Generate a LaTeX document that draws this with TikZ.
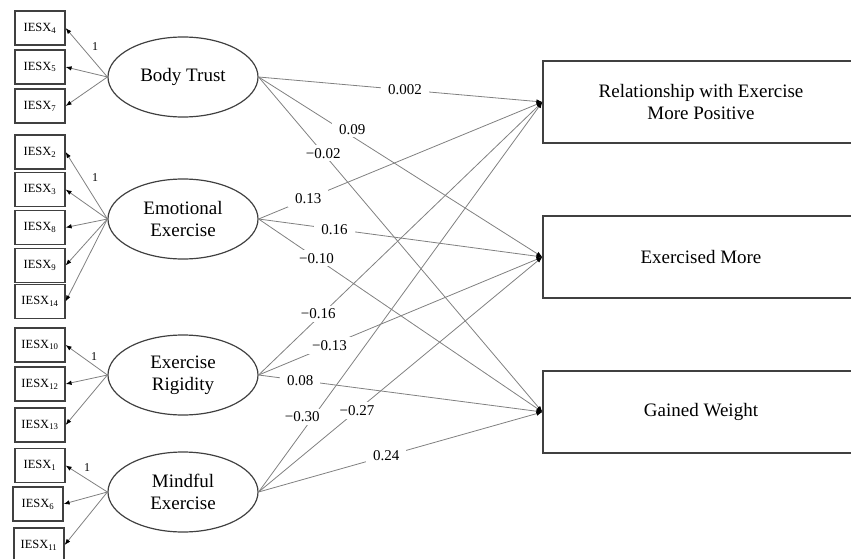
\documentclass[tikz,border=0pt]{standalone}
\usepackage{fontspec}
\setmainfont{Liberation Serif}
\usetikzlibrary{shapes.geometric,arrows.meta}
\tikzset{
  item/.style={draw=black!75,line width=1.2pt,minimum width=50pt,minimum height=34pt,inner sep=0pt,font=\fontsize{12.5}{14}\selectfont},
  factor/.style={ellipse,draw=black!75,line width=1.2pt,minimum width=150pt,minimum height=80pt,inner sep=0pt,align=center,font=\fontsize{19}{22}\selectfont},
  outcome/.style={draw=black!75,line width=1.2pt,minimum width=316pt,minimum height=82pt,inner sep=0pt,align=center,font=\fontsize{19}{22}\selectfont},
  load/.style={draw=black!50,line width=0.8pt,-{Latex[length=6pt,width=4.5pt,color=black]}},
  link/.style={draw=black!50,line width=0.8pt,-{Latex[length=6pt,width=4.5pt,color=black]}},
  coef/.style={fill=white,inner xsep=7pt,inner ysep=3pt,font=\fontsize{15}{15}\selectfont},
  one/.style={font=\fontsize{12}{12}\selectfont}
}
\newcommand{\iesx}[1]{IESX\textsubscript{#1}}
\begin{document}
\begin{tikzpicture}[x=1pt,y=-1pt]
  \useasboundingbox (0,0) rectangle (851,559);
  \clip (0,0) rectangle (851,559);
  \node[item] (i4) at (40,28) {\iesx{4}};
  \node[item] (i5) at (40,67) {\iesx{5}};
  \node[item] (i7) at (40,106) {\iesx{7}};
  \node[item] (i2) at (40,152) {\iesx{2}};
  \node[item] (i3) at (40,189.5) {\iesx{3}};
  \node[item] (i8) at (40,227.5) {\iesx{8}};
  \node[item] (i9) at (40,265.5) {\iesx{9}};
  \node[item] (i14) at (40,301.5) {\iesx{14}};
  \node[item] (i10) at (40,345) {\iesx{10}};
  \node[item] (i12) at (40,384) {\iesx{12}};
  \node[item] (i13) at (40,425) {\iesx{13}};
  \node[item] (i1) at (40,465.5) {\iesx{1}};
  \node[item] (i6) at (38,504) {\iesx{6}};
  \node[item] (i11) at (39,545) {\iesx{11}};

  \node[factor] (bt) at (183,77) {Body Trust};
  \node[factor] (ee) at (183,219) {Emotional\\Exercise};
  \node[factor] (er) at (183,375) {Exercise\\Rigidity};
  \node[factor] (me) at (183,492) {Mindful\\Exercise};

  \node[outcome] (rel) at (701,102) {Relationship with Exercise\\More Positive};
  \node[outcome] (exm) at (701,257) {Exercised More};
  \node[outcome] (gw) at (701,412) {Gained Weight};

  \begin{scope}[load]
    \draw (bt.west) to (i4.east);
    \draw (bt.west) to (i5.east);
    \draw (bt.west) to (i7.east);
    \draw (ee.west) to (i2.east);
    \draw (ee.west) to (i3.east);
    \draw (ee.west) to (i8.east);
    \draw (ee.west) to (i9.east);
    \draw (ee.west) to (i14.east);
    \draw (er.west) to (i10.east);
    \draw (er.west) to (i12.east);
    \draw (er.west) to (i13.east);
    \draw (me.west) to (i1.east);
    \draw (me.west) to (i6.east);
    \draw (me.west) to (i11.east);
  \end{scope}
  \node[one] (l4) at (95,47) {1};
  \node[one] (l2) at (95,178) {1};
  \node[one] (l10) at (94,357) {1};
  \node[one] (l1) at (87,468) {1};

  \begin{scope}[link]
    \draw (bt.east) to node[coef,pos=0.516] (c1) {0.002} (rel.west);
    \draw (bt.east) to node[coef,pos=0.33,yshift=7pt] (c2) {0.09} (exm.west);
    \draw (bt.east) to node[coef,pos=0.228] (c3) {−0.02} (gw.west);
    \draw (ee.east) to node[coef,pos=0.175] (c4) {0.13} (rel.west);
    \draw (ee.east) to node[coef,pos=0.267] (c5) {0.16} (exm.west);
    \draw (ee.east) to node[coef,pos=0.204] (c6) {−0.10} (gw.west);
    \draw (er.east) to node[coef,pos=0.21,yshift=4pt] (c7) {−0.16} (rel.west);
    \draw (er.east) to node[coef,pos=0.25] (c8) {−0.13} (exm.west);
    \draw (er.east) to node[coef,pos=0.147] (c9) {0.08} (gw.west);
    \draw (me.east) to node[coef,pos=0.154,yshift=15pt] (c10) {−0.30} (rel.west);
    \draw (me.east) to node[coef,pos=0.347] (c11) {−0.27} (exm.west);
    \draw (me.east) to node[coef,pos=0.45] (c12) {0.24} (gw.west);
  \end{scope}
\end{tikzpicture}
\end{document}
